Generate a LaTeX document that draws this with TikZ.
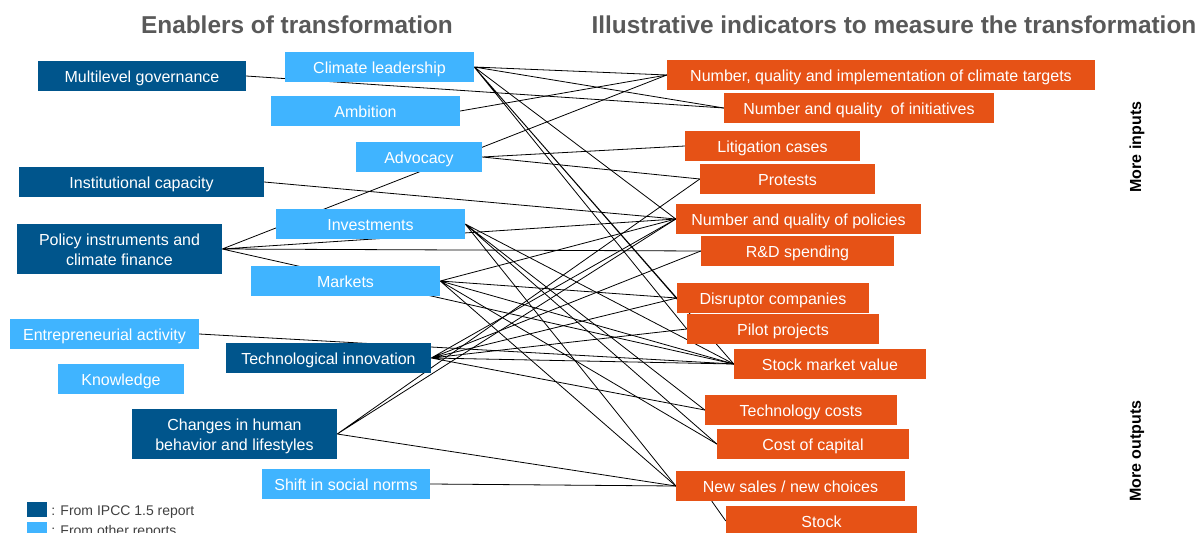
\documentclass[tikz,border=0pt]{standalone}
\usepackage{fontspec}
\setmainfont{Liberation Sans}
\usetikzlibrary{backgrounds}
\definecolor{ipccblue}{RGB}{0,85,140}
\definecolor{otherblue}{RGB}{64,180,255}
\definecolor{indorange}{RGB}{230,82,22}
\definecolor{titlegray}{RGB}{89,89,89}
\definecolor{legendgray}{RGB}{64,64,64}

\begin{document}
\begin{tikzpicture}[x=1pt, y=-1pt,
        box/.style={minimum height=30pt, inner sep=0pt, text=white, align=center,
            text height=14pt, text depth=1.4pt, font=\fontsize{16}{20}\selectfont},
        twoline/.style={minimum height=50pt, text height=34pt},
        ipccbox/.style={box, fill=ipccblue},
        otherbox/.style={box, fill=otherblue},
        indbox/.style={box, fill=indorange},
        link/.style={black, line width=0.8pt},
        heading/.style={text=titlegray, font=\fontsize{24.4}{28}\selectfont\bfseries}]
    \useasboundingbox (0,0) rectangle (1203,533);

    % titles
    \node[heading] (hleft) at (297,25) {Enablers of transformation};
    \node[heading] (hright) at (894,25) {Illustrative indicators to measure the transformation};

    % enablers
    \node[ipccbox, minimum width=208pt] (mlg) at (142,76) {Multilevel governance};
    \node[otherbox, minimum width=189pt] (lead) at (379.5,67) {Climate leadership};
    \node[otherbox, minimum width=189pt] (amb) at (365.5,111) {Ambition};
    \node[otherbox, minimum width=126pt] (adv) at (419,157) {Advocacy};
    \node[ipccbox, minimum width=245pt] (inst) at (141.5,182) {Institutional capacity};
    \node[otherbox, minimum width=189pt] (inv) at (370.5,224) {Investments};
    \node[ipccbox, twoline, minimum width=205pt] (pinst) at (119.5,249) {Policy instruments and\\climate finance};
    \node[otherbox, minimum width=189pt] (mkt) at (345.5,281) {Markets};
    \node[otherbox, minimum width=189pt] (entr) at (104.5,334) {Entrepreneurial activity};
    \node[ipccbox, minimum width=205pt] (tech) at (328.5,358) {Technological innovation};
    \node[otherbox, minimum width=126pt] (know) at (121,379) {Knowledge};
    \node[ipccbox, twoline, minimum width=205pt] (behav) at (234.5,434) {Changes in human\\behavior and lifestyles};
    \node[otherbox, minimum width=168pt] (norms) at (346,484) {Shift in social norms};

    % indicators
    \node[indbox, minimum width=428pt] (targ) at (881,75) {Number, quality and implementation of climate targets};
    \node[indbox, minimum width=270pt] (init) at (859,108) {Number and quality\ \ of initiatives};
    \node[indbox, minimum width=175pt] (litig) at (772.5,146) {Litigation cases};
    \node[indbox, minimum width=175pt] (prot) at (787.5,179) {Protests};
    \node[indbox, minimum width=245pt] (pols) at (798.5,219) {Number and quality of policies};
    \node[indbox, minimum width=193pt] (rnd) at (797.5,251) {R\&D spending};
    \node[indbox, minimum width=192pt] (disr) at (773,298) {Disruptor companies};
    \node[indbox, minimum width=192pt] (pilot) at (783,329) {Pilot projects};
    \node[indbox, minimum width=192pt] (smv) at (830,364) {Stock market value};
    \node[indbox, minimum width=192pt] (tcost) at (801,410) {Technology costs};
    \node[indbox, minimum width=192pt] (ccap) at (813,444) {Cost of capital};
    \node[indbox, minimum width=229pt] (sales) at (790.5,486) {New sales / new choices};
    \node[indbox, minimum width=191pt] (stock) at (821.5,521) {Stock};

    \node[rotate=90, font=\fontsize{16}{20}\selectfont\bfseries] (minp) at (1137,147) {More inputs};
    \node[rotate=90, font=\fontsize{16}{20}\selectfont\bfseries] (mout) at (1137,451) {More outputs};

    % legend
    \node[fill=ipccblue, minimum width=20pt, minimum height=15pt, inner sep=0pt] (lgdark) at (37,509.5) {};
    \node[fill=otherblue, minimum width=20pt, minimum height=15pt, inner sep=0pt] (lglight) at (37,529.5) {};
    \node[right, inner sep=0pt, text height=12pt, text depth=1pt, text=legendgray, font=\fontsize{14}{16}\selectfont] at ([xshift=4pt]lgdark.east) {: From IPCC 1.5 report};
    \node[right, inner sep=0pt, text height=12pt, text depth=1pt, text=legendgray, font=\fontsize{14}{16}\selectfont] at ([xshift=4pt]lglight.east) {: From other reports};

    % links
    \begin{scope}[on background layer]
        \draw[link] (mlg.east) -- (init.west);
        \draw[link] (lead.east) -- (targ.west) (lead.east) -- (init.west) (lead.east) -- (pols.west)
            (lead.east) -- (disr.west) (lead.east) -- (pilot.west) (lead.east) -- (smv.west);
        \draw[link] (amb.east) -- (targ.west);
        \draw[link] (adv.east) -- (litig.west) (adv.east) -- (prot.west);
        \draw[link] (inst.east) -- (pols.west);
        \draw[link] (pinst.east) -- (targ.west) (pinst.east) -- (pols.west) (pinst.east) -- (rnd.west)
            (pinst.east) -- (smv.west);
        \draw[link] (inv.east) -- (smv.west) (inv.east) -- (tcost.west) (inv.east) -- (ccap.west)
            (inv.east) -- (sales.west);
        \draw[link] (mkt.east) -- (pols.west) (mkt.east) -- (disr.west) (mkt.east) -- (smv.west)
            (mkt.east) -- (ccap.west) (mkt.east) -- (sales.west);
        \draw[link] (entr.east) -- (smv.west);
        \draw[link] (tech.east) -- (disr.west) (tech.east) -- (pilot.west) (tech.east) -- (smv.west)
            (tech.east) -- (tcost.west) (tech.east) -- (pols.west) (tech.east) -- (rnd.west);
        \draw[link] (behav.east) -- (prot.west) (behav.east) -- (pols.west) (behav.east) -- (sales.west);
        \draw[link] (norms.east) -- (sales.west);
        \draw[link] ([xshift=36pt]sales.south west) -- (stock.west);
    \end{scope}
\end{tikzpicture}
\end{document}
